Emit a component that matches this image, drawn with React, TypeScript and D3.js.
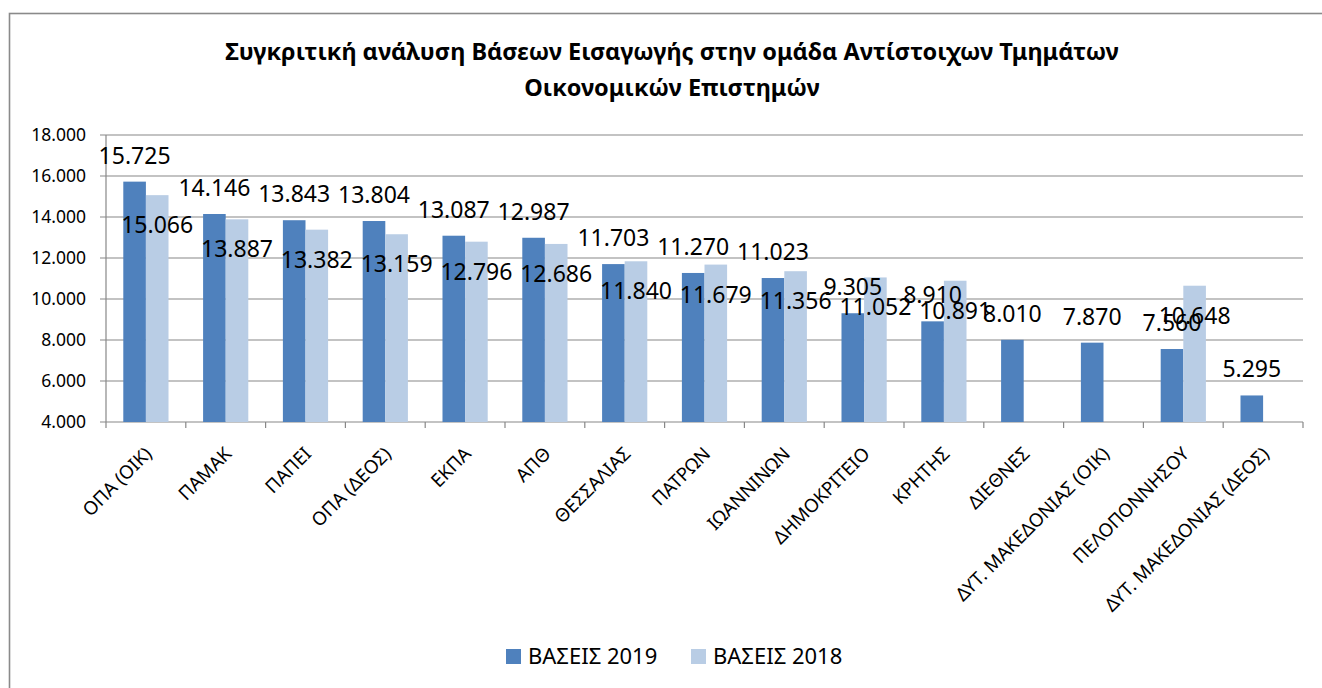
import React, { useEffect, useRef } from 'react';
import * as d3 from 'd3';

// categories (departments)
const categories = [
  'ΟΠΑ (ΟΙΚ)',
  'ΠΑΜΑΚ',
  'ΠΑΠΕΙ',
  'ΟΠΑ (ΔΕΟΣ)',
  'ΕΚΠΑ',
  'ΑΠΘ',
  'ΘΕΣΣΑΛΙΑΣ',
  'ΠΑΤΡΩΝ',
  'ΙΩΑΝΝΙΝΩΝ',
  'ΔΗΜΟΚΡΙΤΕΙΟ',
  'ΚΡΗΤΗΣ',
  'ΔΙΕΘΝΕΣ',
  'ΔΥΤ. ΜΑΚΕΔΟΝΙΑΣ (ΟΙΚ)',
  'ΠΕΛΟΠΟΝΝΗΣΟΥ',
  'ΔΥΤ. ΜΑΚΕΔΟΝΙΑΣ (ΔΕΟΣ)',
];

const bases2019 = [15725, 14146, 13843, 13804, 13087, 12987, 11703, 11270, 11023, 9305, 8910, 8010, 7870, 7560, 5295];
const bases2018 = [15066, 13887, 13382, 13159, 12796, 12686, 11840, 11679, 11356, 11052, 10891, null, null, 10648, null];

const yTicks = [4000, 6000, 8000, 10000, 12000, 14000, 16000, 18000];
const seriesNames = ['ΒΑΣΕΙΣ 2019', 'ΒΑΣΕΙΣ 2018'];
const titleLines = [
  'Συγκριτική ανάλυση Βάσεων Εισαγωγής στην ομάδα Αντίστοιχων Τμημάτων',
  'Οικονομικών Επιστημών',
];

const colors = ['#4F81BD', '#B9CDE5'];
const gridColor = '#888888';

const fmt = (v: number) => d3.format(',')(v).replace(/,/g, '.');

const BarChart = () => {
  const chartRef = useRef<SVGSVGElement>(null);

  useEffect(() => {
    const svg = d3.select(chartRef.current);
    svg.selectAll('*').remove();

    const left = 106;
    const right = 1303;
    const top = 135;
    const bottom = 422;

    // scales
    const x = d3.scaleBand<string>().domain(categories).range([left, right]).padding(0);
    const xInner = d3
      .scaleBand<string>()
      .domain(['2019', '2018'])
      .range([0, x.bandwidth()])
      .paddingInner(0)
      .paddingOuter(0.765);
    const y = d3.scaleLinear().domain([4000, 18000]).range([bottom, top]);

    // outer border
    svg
      .append('rect')
      .attr('x', 9.5)
      .attr('y', 13.5)
      .attr('width', 1400)
      .attr('height', 800)
      .attr('fill', 'white')
      .attr('stroke', '#8a8a8a')
      .attr('stroke-width', 1.6);

    // title
    svg
      .append('g')
      .selectAll('text')
      .data(titleLines)
      .enter()
      .append('text')
      .attr('x', 672)
      .attr('y', (d, i) => 60 + i * 36)
      .attr('text-anchor', 'middle')
      .attr('font-size', '23.5px')
      .attr('font-weight', 'bold')
      .attr('fill', '#000')
      .text((d) => d);

    // gridlines
    svg
      .append('g')
      .selectAll('line')
      .data(yTicks)
      .enter()
      .append('line')
      .attr('x1', left - 6)
      .attr('x2', right)
      .attr('y1', (d) => y(d))
      .attr('y2', (d) => y(d))
      .attr('stroke', gridColor)
      .attr('stroke-width', 1.2);

    // y axis line
    svg
      .append('line')
      .attr('x1', left)
      .attr('x2', left)
      .attr('y1', top)
      .attr('y2', bottom)
      .attr('stroke', gridColor)
      .attr('stroke-width', 1.2);

    // y tick labels
    svg
      .append('g')
      .selectAll('text')
      .data(yTicks)
      .enter()
      .append('text')
      .attr('x', 86)
      .attr('y', (d) => y(d))
      .attr('dy', '0.36em')
      .attr('text-anchor', 'end')
      .attr('font-size', '17.5px')
      .attr('fill', '#000')
      .text((d) => fmt(d));

    // x tick marks at category boundaries
    svg
      .append('g')
      .selectAll('line')
      .data(d3.range(categories.length + 1))
      .enter()
      .append('line')
      .attr('x1', (i) => left + i * x.step())
      .attr('x2', (i) => left + i * x.step())
      .attr('y1', bottom)
      .attr('y2', bottom + 6)
      .attr('stroke', gridColor)
      .attr('stroke-width', 1.2);

    // bars
    const series = [bases2019, bases2018];
    const keys = ['2019', '2018'];
    series.forEach((vals, s) => {
      svg
        .append('g')
        .selectAll('rect')
        .data(vals.map((v, i) => ({ cat: categories[i], v })).filter((d) => d.v != null))
        .enter()
        .append('rect')
        .attr('x', (d) => x(d.cat)! + xInner(keys[s])!)
        .attr('y', (d) => y(d.v as number))
        .attr('width', xInner.bandwidth())
        .attr('height', (d) => bottom - y(d.v as number))
        .attr('fill', colors[s]);
    });

    // data labels (2019 above the bar end, 2018 moved just below it)
    const labelOffset = [-18, 38];
    series.forEach((vals, s) => {
      svg
        .append('g')
        .selectAll('text')
        .data(vals.map((v, i) => ({ cat: categories[i], v })).filter((d) => d.v != null))
        .enter()
        .append('text')
        .attr('x', (d) => x(d.cat)! + xInner(keys[s])! + xInner.bandwidth() / 2)
        .attr('y', (d) => y(d.v as number) + labelOffset[s])
        .attr('text-anchor', 'middle')
        .attr('font-size', '23px')
        .attr('fill', '#000')
        .text((d) => fmt(d.v as number));
    });

    // category labels, rotated
    svg
      .append('g')
      .selectAll('text')
      .data(categories)
      .enter()
      .append('text')
      .attr('transform', (d) => `translate(${x(d)! + x.bandwidth() / 2 + 7},${bottom + 33}) rotate(-45)`)
      .attr('text-anchor', 'end')
      .attr('font-size', '18.6px')
      .attr('fill', '#000')
      .text((d) => d);

    // legend
    const legendX = [506, 691];
    const legend = svg
      .append('g')
      .selectAll('g')
      .data(seriesNames)
      .enter()
      .append('g')
      .attr('transform', (d, i) => `translate(${legendX[i]},649)`);
    legend
      .append('rect')
      .attr('width', 15)
      .attr('height', 15)
      .attr('fill', (d, i) => colors[i]);
    legend
      .append('text')
      .attr('x', 22)
      .attr('y', 15)
      .attr('font-size', '22px')
      .attr('fill', '#000')
      .text((d) => d);
  }, []);

  return (
    <svg
      ref={chartRef}
      width={1322}
      height={688}
      style={{ position: 'absolute', left: 0, top: 0, fontFamily: '"Noto Sans", sans-serif', background: 'white' }}
    />
  );
};

export default function App() {
  return <BarChart />;
}
